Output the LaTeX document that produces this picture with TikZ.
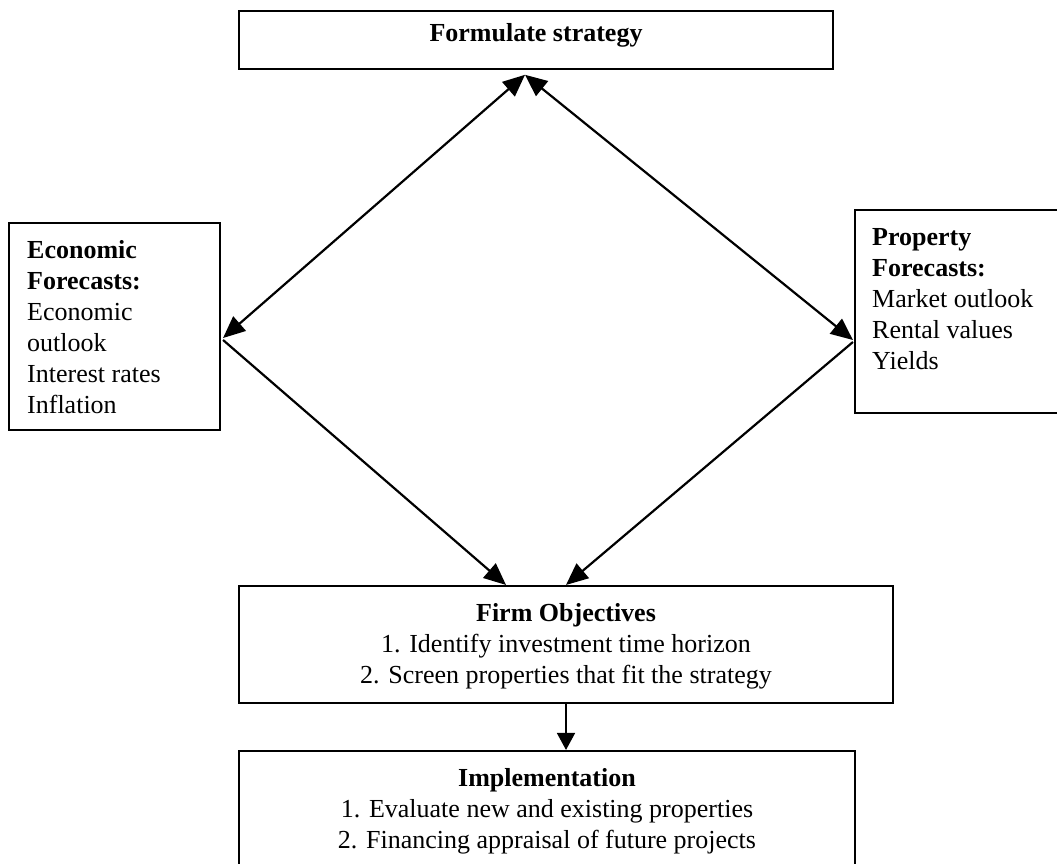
\documentclass[tikz,border=0pt]{standalone}
\usepackage{fontspec}
\setmainfont{Liberation Serif}
\usetikzlibrary{arrows.meta}
% fixed-height first line so the text top sits a known distance above the first baseline
\newcommand{\firstline}{\rule{0pt}{20pt}}
\begin{document}
\begin{tikzpicture}[x=1pt,y=-1pt,
  boxframe/.style={draw, line width=2.1pt, inner sep=0pt},
  boxtext/.style={inner sep=0pt, font=\fontsize{26}{31}\selectfont},
  oneway/.style={line width=2.2pt, -{Triangle[length=22pt,width=19pt]}},
  twoway/.style={line width=2.2pt, {Triangle[length=22pt,width=19pt]}-{Triangle[length=22pt,width=19pt]}},
  downlink/.style={line width=1.6pt, -{Triangle[length=17pt,width=18pt]}}
]
\useasboundingbox[fill=white] (0,0) rectangle (1057,863);

% frames
\node[boxframe, minimum width=594pt, minimum height=58.5pt] (form) at (536,40) {};
\node[boxframe, minimum width=211pt, minimum height=207pt] (econ) at (114.5,326.5) {};
\node[boxframe, minimum width=210pt, minimum height=203pt] (prop) at (960,311.5) {};
\node[boxframe, minimum width=654pt, minimum height=117pt] (firm) at (566,644.5) {};
\node[boxframe, minimum width=616pt, minimum height=129pt] (impl) at (547,815.5) {};

% texts
\node[boxtext, anchor=base] (formtxt) at (536,41) {\textbf{Formulate strategy}};
\node[boxtext, anchor=north west, align=left] (econtxt) at (27,238)
  {\firstline\textbf{Economic}\\\textbf{Forecasts:}\\Economic\\outlook\\Interest rates\\Inflation};
\node[boxtext, anchor=north west, align=left] (proptxt) at (872,225)
  {\firstline\textbf{Property}\\\textbf{Forecasts:}\\Market outlook\\Rental values\\Yields};
\node[boxtext, anchor=north, align=center] (firmtxt) at (566,601)
  {\firstline\textbf{Firm Objectives}\\1. Identify investment time horizon\\2. Screen properties that fit the strategy};
\node[boxtext, anchor=north, align=center] (impltxt) at (547,766)
  {\firstline\textbf{Implementation}\\1. Evaluate new and existing properties\\2. Financing appraisal of future projects};

% connectors
\draw[twoway] ([xshift=-11pt,yshift=-4.5pt]form.south) -- ([xshift=2pt,yshift=-11.5pt]econ.east);
\draw[twoway] ([xshift=-11pt,yshift=-4.5pt]form.south) -- ([xshift=-1pt,yshift=-28.5pt]prop.west);
\draw[oneway] ([xshift=2pt,yshift=-13.5pt]econ.east) -- ([xshift=-60pt]firm.north);
\draw[oneway] ([xshift=-1pt,yshift=-30.5pt]prop.west) -- (firm.north);
\draw[downlink] (firm.south) -- ([xshift=19pt]impl.north);
\end{tikzpicture}
\end{document}
